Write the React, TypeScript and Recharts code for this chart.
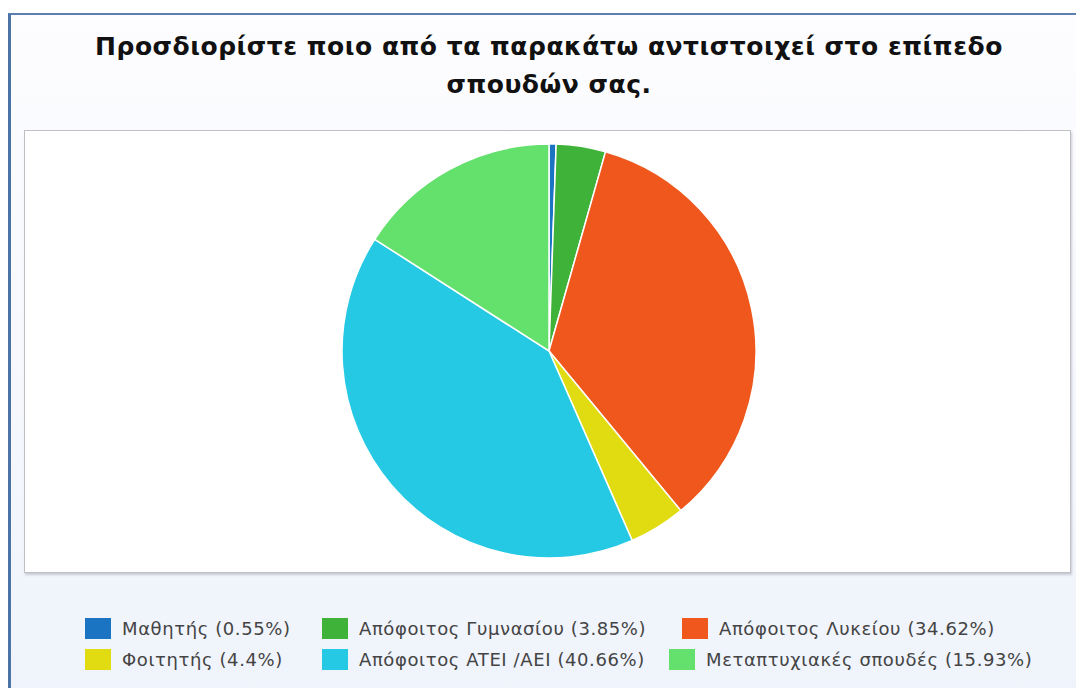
import React from 'react';
import { PieChart, Pie, Cell } from 'recharts';

const categories = [
  'Μαθητής',
  'Απόφοιτος Γυμνασίου',
  'Απόφοιτος Λυκείου',
  'Φοιτητής',
  'Απόφοιτος ATEI /AEI',
  'Μεταπτυχιακές σπουδές',
];
const shares = [0.55, 3.85, 34.62, 4.4, 40.66, 15.93];
const colors = ['#1b74c2', '#3fb23a', '#ef571c', '#e1db12', '#25c9e4', '#64e06c'];
const legendRows = [
  [0, 1, 2],
  [3, 4, 5],
];
// column widths of the legend, per row
const legendCols = [
  [237, 360],
  [237, 347],
];

const title = 'Προσδιορίστε ποιο από τα παρακάτω αντιστοιχεί στο επίπεδο\nσπουδών σας.';

const pieData = categories.map((name, i) => ({ name, value: shares[i] }));

const font = '"DejaVu Sans", Verdana, sans-serif';

export default function App() {
  return (
    <div
      style={{
        position: 'absolute',
        left: 0,
        top: 0,
        width: 1076,
        height: 688,
        overflow: 'hidden',
        background: '#ffffff',
        fontFamily: font,
      }}
    >
      {/* outer frame */}
      <div
        style={{
          position: 'absolute',
          left: 8,
          top: 13,
          width: 1080,
          height: 690,
          borderLeft: '3px solid #4b73a6',
          borderTop: '2px solid #5b80b0',
          background: 'linear-gradient(180deg, #fdfdff 0%, #f6f8fd 50%, #eff3fb 100%)',
        }}
      />
      <div
        style={{
          position: 'absolute',
          left: 24,
          top: 28,
          width: 1050,
          textAlign: 'center',
          whiteSpace: 'pre-line',
          fontSize: 25,
          letterSpacing: 0.5,
          fontWeight: 'bold',
          lineHeight: '38px',
          color: '#111',
        }}
      >
        {title}
      </div>
      {/* plot panel */}
      <div
        style={{
          position: 'absolute',
          left: 24,
          top: 130,
          width: 1045,
          height: 441,
          background: '#ffffff',
          border: '1px solid #bfc0c6',
          boxShadow: '1px 2px 2px rgba(120,120,140,0.35)',
        }}
      />
      <div style={{ position: 'absolute', left: 0, top: 0 }}>
        <PieChart width={1076} height={688} margin={{ top: 0, right: 0, bottom: 0, left: 0 }}>
          <Pie
            data={pieData}
            dataKey="value"
            nameKey="name"
            cx={549}
            cy={351}
            outerRadius={207}
            startAngle={90}
            endAngle={-270}
            stroke="#ffffff"
            strokeWidth={1.5}
            isAnimationActive={false}
          >
            {pieData.map((d, i) => (
              <Cell key={d.name} fill={colors[i]} />
            ))}
          </Pie>
        </PieChart>
      </div>
      {/* legend */}
      <div style={{ position: 'absolute', left: 85, top: 613 }}>
        {legendRows.map((row, r) => (
          <div key={r} style={{ display: 'flex', alignItems: 'center', height: 31 }}>
            {row.map((idx, c) => (
              <div
                key={idx}
                style={{
                  display: 'flex',
                  alignItems: 'center',
                  width: c < 2 ? legendCols[r][c] : undefined,
                }}
              >
                <span
                  style={{
                    display: 'inline-block',
                    width: 26,
                    height: 21,
                    background: colors[idx],
                    marginRight: 11,
                  }}
                />
                <span
                  style={{ fontSize: 18, letterSpacing: 0.6, color: '#444', whiteSpace: 'nowrap' }}
                >
                  {categories[idx]} ({shares[idx]}%)
                </span>
              </div>
            ))}
          </div>
        ))}
      </div>
    </div>
  );
}
